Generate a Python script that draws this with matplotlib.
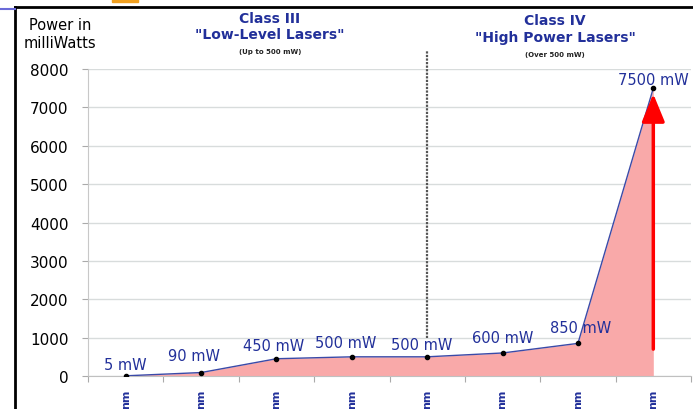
import matplotlib
matplotlib.use("Agg")
import matplotlib.pyplot as plt
from matplotlib.patches import Rectangle
from matplotlib.lines import Line2D

plt.rcParams['font.family'] = ['DejaVu Sans']

categories = ["nm"] * 8
power_mw = [5, 90, 450, 500, 500, 600, 850, 7500]
point_labels = ["5 mW", "90 mW", "450 mW", "500 mW", "500 mW", "600 mW", "850 mW", "7500 mW"]
yticks = [0, 1000, 2000, 3000, 4000, 5000, 6000, 7000, 8000]

blue = '#22309a'
fig = plt.figure(figsize=(6.93, 4.10), dpi=100)
ax = fig.add_axes([88/693, 1-377/410, (691-88)/693, (377-70)/410])

x = list(range(len(power_mw)))
ax.fill_between([-0.5] + x, [0] + power_mw, 0, color='#f9a9a9', lw=0, zorder=1)
ax.plot(x, power_mw, color='#3a4aa8', lw=1.0, zorder=3)
ax.plot(x, power_mw, 'o', color='black', ms=3, zorder=4)

# red arrow
ax.annotate('', xy=(7, 7350), xytext=(7, 700),
            arrowprops=dict(arrowstyle='-|>,head_width=0.7,head_length=1.7',
                            color='#ff0000', lw=2.5, shrinkA=0, shrinkB=0), zorder=5)

# dashed divider
ax.plot([4, 4], [1000, 8470], color='#555555', lw=1.6, ls=(0, (1, 0.6)), clip_on=False, zorder=2)

offsets = [(0, 290), (-0.1, 440), (-0.04, 340), (-0.08, 365), (-0.07, 310), (0.0, 415), (0.04, 415), (0.0, 235)]
for i, (v, lab) in enumerate(zip(power_mw, point_labels)):
    dx, dy = offsets[i]
    ax.text(i + dx, v + dy, lab, ha='center', va='center', fontsize=10.5, color=blue, zorder=6)

ax.set_xlim(-0.5, 7.5)
ax.set_ylim(0, 8000)
ax.set_yticks(yticks)
ax.set_yticklabels([str(t) for t in yticks], fontsize=11)
ax.set_xticks([i + 0.5 for i in range(-1, 8)], minor=False)
ax.set_xticklabels([])
ax.set_xticks(x, minor=True)
ax.set_xticklabels(categories, minor=True, rotation=90, fontsize=8, color=blue, fontweight='bold')
ax.tick_params(axis='x', which='minor', length=0, pad=9)
ax.tick_params(axis='x', which='major', length=4, color='#aaaaaa')
ax.tick_params(axis='y', length=4, color='#aaaaaa', pad=10)
ax.grid(axis='y', color='#d8dcdc', lw=1)
ax.set_axisbelow(True)
for s in ['top', 'right']:
    ax.spines[s].set_visible(False)
ax.spines['left'].set_color('#c8c8c8')
ax.spines['left'].set_linestyle((0, (1, 1)))
ax.spines['bottom'].set_color('#c0c0c0')

# titles
fig.text(60/693, 1-35/410, "Power in\nmilliWatts", ha='center', va='center', fontsize=10.5, linespacing=1.25)
fig.text(270/693, 1-19/410, "Class III", ha='center', va='center', fontsize=10, fontweight='bold', color=blue)
fig.text(270/693, 1-35/410, "\"Low-Level Lasers\"", ha='center', va='center', fontsize=10, fontweight='bold', color=blue)
fig.text(270/693, 1-52/410, "(Up to 500 mW)", ha='center', va='center', fontsize=5, fontweight='bold', color='#222222')
fig.text(555/693, 1-21/410, "Class IV", ha='center', va='center', fontsize=10, fontweight='bold', color=blue)
fig.text(555/693, 1-38/410, "\"High Power Lasers\"", ha='center', va='center', fontsize=10, fontweight='bold', color=blue)
fig.text(555/693, 1-55/410, "(Over 500 mW)", ha='center', va='center', fontsize=5, fontweight='bold', color='#222222')

# frame lines
fig.add_artist(Line2D([15/693, 15/693], [0, 1-8/410], color='black', lw=2, transform=fig.transFigure))
fig.add_artist(Line2D([15/693, 1], [1-8/410, 1-8/410], color='black', lw=2, transform=fig.transFigure))
fig.add_artist(Line2D([0, 15/693], [1-10/410, 1-10/410], color='#6a6ad8', lw=1.5, transform=fig.transFigure))
fig.add_artist(Rectangle((112/693, 1-3/410), 26/693, 3/410, color='#f0a020', transform=fig.transFigure))

fig.savefig('out.png', dpi=100)
